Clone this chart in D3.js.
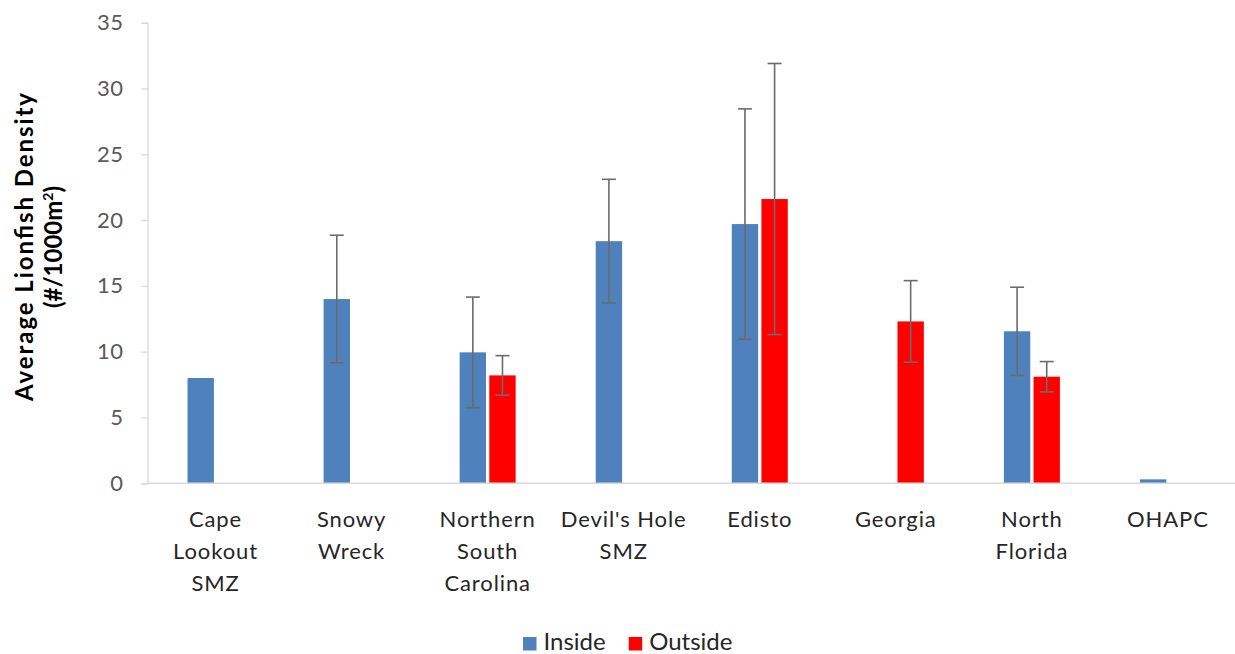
<!DOCTYPE html>
<html>
<head>
<meta charset="utf-8">
<script src="https://cdn.jsdelivr.net/npm/d3@7"></script>
<style>
  html, body { margin: 0; padding: 0; background: #fff; }
  svg { display: block; font-family: Lato, "Open Sans", sans-serif; }
</style>
</head>
<body>
<svg id="chart" width="1235" height="654"></svg>
<script>
// Lionfish density by site, inside vs. outside protected areas
const categories = [
  ["Cape", "Lookout", "SMZ"],
  ["Snowy", "Wreck"],
  ["Northern", "South", "Carolina"],
  ["Devil's Hole", "SMZ"],
  ["Edisto"],
  ["Georgia"],
  ["North", "Florida"],
  ["OHAPC"]
];
const seriesNames = ["Inside", "Outside"];
const seriesColors = ["#4F81BD", "#FF0000"];
// mean values (null = no survey)
const insideValues  = [8.0, 14.0, 9.95, 18.4, 19.7, null, 11.55, 0.3];
const outsideValues = [null, null, 8.2, null, 21.6, 12.3, 8.1, null];
// standard error half-widths
const insideErr  = [null, 4.85, 4.2, 4.7, 8.75, null, 3.35, null];
const outsideErr = [null, null, 1.5, null, 10.3, 3.1, 1.15, null];
const yTicks = [0, 5, 10, 15, 20, 25, 30, 35];

const svg = d3.select("#chart");
const plot = { left: 147.5, right: 1236, top: 22.7, bottom: 483.3 };

const keys = categories.map((c, i) => i);
const x0 = d3.scaleBand().domain(keys).range([plot.left, plot.right]).padding(0);
const x1 = d3.scaleBand().domain(seriesNames).range([-28, 28]).paddingInner(0.11);
const y = d3.scaleLinear().domain([0, 35]).range([plot.bottom, plot.top]);

// y axis
const yAxis = svg.append("g")
  .attr("transform", `translate(${plot.left},0)`)
  .call(d3.axisLeft(y).tickValues(yTicks).tickSize(6).tickPadding(18));
yAxis.select(".domain").attr("stroke", "#d9d9d9").attr("stroke-width", 1.3);
yAxis.selectAll(".tick line").attr("stroke", "#d9d9d9").attr("stroke-width", 1.3);
yAxis.selectAll(".tick text").attr("fill", "#595959").style("font-size", "22px")
  .style("letter-spacing", "0.5px")
  .style("font-family", "Lato, sans-serif");

// bars
const rows = [];
keys.forEach(i => {
  rows.push({ i, s: 0, v: insideValues[i], e: insideErr[i] });
  rows.push({ i, s: 1, v: outsideValues[i], e: outsideErr[i] });
});
const present = rows.filter(d => d.v != null);
const cx = d => x0(d.i) + x0.bandwidth() / 2 + x1(seriesNames[d.s]);

svg.append("g").selectAll("rect").data(present).join("rect")
  .attr("x", d => cx(d))
  .attr("y", d => y(d.v))
  .attr("width", x1.bandwidth())
  .attr("height", d => y(0) - y(d.v))
  .attr("fill", d => seriesColors[d.s]);

// x baseline
svg.append("line")
  .attr("x1", plot.left).attr("x2", plot.right)
  .attr("y1", y(0)).attr("y2", y(0))
  .attr("stroke", "#d9d9d9").attr("stroke-width", 1.5);

// error bars
const errs = present.filter(d => d.e != null);
const eg = svg.append("g").attr("stroke", "#6b6b6b").attr("stroke-width", 1.6);
errs.forEach(d => {
  const mx = cx(d) + x1.bandwidth() / 2;
  const hi = y(d.v + d.e), lo = y(d.v - d.e);
  eg.append("line").attr("x1", mx).attr("x2", mx).attr("y1", hi).attr("y2", lo);
  eg.append("line").attr("x1", mx - 7).attr("x2", mx + 7).attr("y1", hi).attr("y2", hi);
  eg.append("line").attr("x1", mx - 7).attr("x2", mx + 7).attr("y1", lo).attr("y2", lo);
});

// category labels
const cl = svg.append("g").selectAll("text").data(keys).join("text")
  .attr("x", i => x0(i) + x0.bandwidth() / 2)
  .attr("y", 527)
  .attr("text-anchor", "middle")
  .attr("fill", "#262626")
  .style("font-size", "22px")
  .style("letter-spacing", "0.9px");
cl.each(function(i) {
  d3.select(this).selectAll("tspan").data(categories[i]).join("tspan")
    .attr("x", x0(i) + x0.bandwidth() / 2)
    .attr("dy", (d, k) => k === 0 ? 0 : 32)
    .text(d => d);
});

// y axis title
const title = svg.append("text")
  .attr("transform", "translate(0,247) rotate(-90)")
  .attr("text-anchor", "middle")
  .attr("fill", "#000")
  .style("font-size", "24px")
  .style("font-weight", "bold");
title.append("tspan").attr("x", 0).attr("y", 33)
  .attr("textLength", 308).attr("lengthAdjust", "spacing")
  .text("Average  Lionfish Density");
const t2 = title.append("tspan").attr("x", 0).attr("y", 62).text("(#/1000m");
t2.append("tspan").attr("font-size", "14px").attr("dy", -9).text("2");
t2.append("tspan").attr("dy", 9).text(")");

// legend
const legend = svg.append("g").attr("transform", "translate(523,650)");
let lx = 0;
seriesNames.forEach((name, k) => {
  legend.append("rect").attr("x", lx).attr("y", -13).attr("width", 13.5).attr("height", 13.5)
    .attr("fill", seriesColors[k]);
  const t = legend.append("text").attr("x", lx + 20.5).attr("y", 0)
    .attr("fill", "#262626").style("font-size", "24px").text(name);
  lx += 20.5 + t.node().getComputedTextLength() + 23;
});
</script>
</body>
</html>
